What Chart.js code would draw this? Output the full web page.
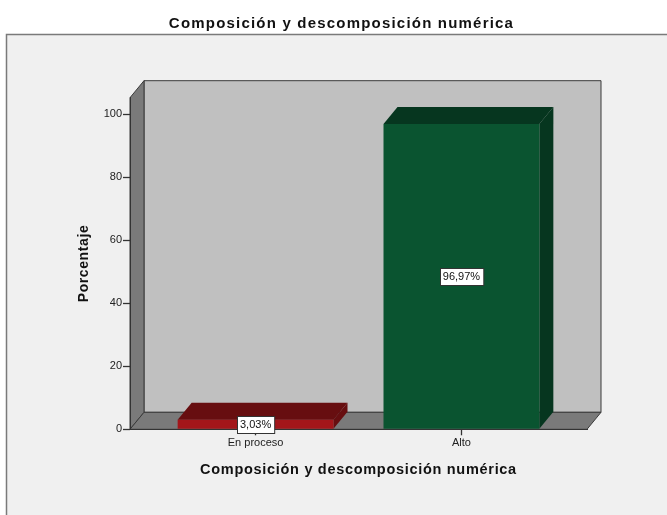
<!DOCTYPE html>
<html>
<head>
<meta charset="utf-8">
<script src="https://cdn.jsdelivr.net/npm/chart.js@4/dist/chart.umd.min.js"></script>
<style>
  html, body { margin: 0; padding: 0; background: #fff; overflow: hidden; width: 667px; height: 515px; }
  #wrap { position: absolute; left: 0; top: 0; width: 683px; height: 515px; }
</style>
</head>
<body>
<div id="wrap"><canvas id="chart" width="683" height="515"></canvas></div>
<script>
// Categories and their percentages
const categories = ['En proceso', 'Alto'];
const percentages = [3.03, 96.97];
const yTickValues = [0, 20, 40, 60, 80, 100];

const chartTitle = 'Composición y descomposición numérica';
const xAxisTitle = 'Composición y descomposición numérica';
const yAxisTitle = 'Porcentaje';

// Styling
const FONT = "'Liberation Sans', Arial, sans-serif";
const FRONT_COLORS = ['#a3161a', '#0a5430'];
const SHADE_COLORS = ['#670e10', '#06361f'];
const DEPTH_X = 14;
const DEPTH_Y = -17;
const EDGE = '#3a3a3a';

function poly(ctx, pts, fill, stroke) {
  ctx.beginPath();
  ctx.moveTo(pts[0][0], pts[0][1]);
  for (let i = 1; i < pts.length; i++) ctx.lineTo(pts[i][0], pts[i][1]);
  ctx.closePath();
  if (fill) { ctx.fillStyle = fill; ctx.fill(); }
  if (stroke) { ctx.strokeStyle = stroke; ctx.lineWidth = 1; ctx.stroke(); }
}

// Frame and 3D box (back wall, side wall, floor)
const boxPlugin = {
  id: 'box3d',
  beforeDraw(chart) {
    const ctx = chart.ctx;
    const {left: L, right: R, top: T, bottom: B} = chart.chartArea;
    ctx.save();
    ctx.fillStyle = '#ffffff';
    ctx.fillRect(0, 0, chart.width, chart.height);
    ctx.fillStyle = '#f0f0f0';
    ctx.fillRect(6.5, 34.5, 670, 520);
    ctx.strokeStyle = '#7a7a7a';
    ctx.lineWidth = 1.5;
    ctx.strokeRect(6.5, 34.5, 670, 520);

    const dx = DEPTH_X, dy = DEPTH_Y;
    // back wall
    poly(ctx, [[L + dx, T + dy], [R + dx, T + dy], [R + dx, B + dy], [L + dx, B + dy]], '#c0c0c0', EDGE);
    // side wall
    poly(ctx, [[L, T], [L + dx, T + dy], [L + dx, B + dy], [L, B]], '#7a7a7a', EDGE);
    // floor
    poly(ctx, [[L, B], [L + dx, B + dy], [R + dx, B + dy], [R, B]], '#7a7a7a', EDGE);
    ctx.restore();
  },
  beforeDatasetsDraw(chart) {
    const ctx = chart.ctx;
    const meta = chart.getDatasetMeta(0);
    ctx.save();
    meta.data.forEach((el, i) => {
      const p = el.getProps(['x', 'y', 'base', 'width'], true);
      const l = p.x - p.width / 2, r = p.x + p.width / 2;
      const dx = DEPTH_X, dy = DEPTH_Y;
      const shade = SHADE_COLORS[i % SHADE_COLORS.length];
      // top face
      poly(ctx, [[l, p.y], [l + dx, p.y + dy], [r + dx, p.y + dy], [r, p.y]], shade);
      // right face
      poly(ctx, [[r, p.y], [r + dx, p.y + dy], [r + dx, p.base + dy], [r, p.base]], shade);
    });
    ctx.restore();
  }
};

// Value boxes on the front faces of the bars
const valueLabelPlugin = {
  id: 'valueLabels',
  afterDatasetsDraw(chart) {
    const ctx = chart.ctx;
    const meta = chart.getDatasetMeta(0);
    const values = chart.data.datasets[0].data;
    ctx.save();
    ctx.font = '11px ' + FONT;
    ctx.textAlign = 'center';
    ctx.textBaseline = 'middle';
    meta.data.forEach((el, i) => {
      const p = el.getProps(['x', 'y', 'base'], true);
      const text = values[i].y.toFixed(2).replace('.', ',') + '%';
      const w = ctx.measureText(text).width + 6;
      const h = 17;
      const cx = p.x, cy = (p.y + p.base) / 2;
      const bx = Math.round(cx - w / 2) + 0.5, by = Math.round(cy - h / 2) + 0.5;
      ctx.fillStyle = '#ffffff';
      ctx.fillRect(bx, by, w, h);
      ctx.strokeStyle = '#333333';
      ctx.lineWidth = 1;
      ctx.strokeRect(bx, by, w, h);
      ctx.fillStyle = '#111111';
      ctx.fillText(text, cx, cy + 0.5);
    });
    ctx.restore();
  }
};

// Chart title and axis titles
const titlesPlugin = {
  id: 'titles',
  afterDraw(chart) {
    const ctx = chart.ctx;
    const {left: L, right: R, top: T, bottom: B} = chart.chartArea;
    ctx.save();
    ctx.fillStyle = '#111111';
    ctx.textAlign = 'center';
    ctx.textBaseline = 'alphabetic';

    ctx.font = 'bold 15px ' + FONT;
    ctx.letterSpacing = '1.2px';
    ctx.fillText(chartTitle, 341.5, 27.5);

    ctx.font = 'bold 14.5px ' + FONT;
    ctx.letterSpacing = '0.7px';
    ctx.fillText(xAxisTitle, (L + R) / 2, 473.5);

    ctx.font = 'bold 14px ' + FONT;
    ctx.letterSpacing = '0.6px';
    ctx.translate(88, (T + B) / 2);
    ctx.rotate(-Math.PI / 2);
    ctx.fillText(yAxisTitle, 0, 0);
    ctx.restore();
  }
};

const tickFont = { family: FONT, size: 11 };

new Chart(document.getElementById('chart'), {
  type: 'bar',
  data: {
    datasets: [{
      data: percentages.map((v, i) => ({ x: i, y: v })),
      backgroundColor: FRONT_COLORS,
      borderWidth: 0,
      barPercentage: 0.757,
      categoryPercentage: 1
    }]
  },
  options: {
    responsive: false,
    animation: false,
    devicePixelRatio: 1,
    layout: { padding: { top: 97.7, right: 96, bottom: 0, left: 0 } },
    plugins: {
      legend: { display: false },
      tooltip: { enabled: false },
      title: { display: false }
    },
    scales: {
      x: {
        type: 'linear',
        min: -0.61,
        max: 1.61,
        offset: false,
        afterBuildTicks: s => { s.ticks = categories.map((_, i) => ({ value: i })); },
        afterFit: s => { s.height = 85.7; },
        ticks: {
          callback: v => categories[v],
          font: tickFont,
          color: '#222222',
          padding: 1,
          autoSkip: false,
          maxRotation: 0
        },
        grid: { offset: false, drawOnChartArea: false, drawTicks: true, tickLength: 6, tickColor: '#333333', tickWidth: 1.3 },
        border: { display: true, color: '#333333', width: 1 }
      },
      y: {
        min: 0,
        max: 105.3,
        afterBuildTicks: s => { s.ticks = yTickValues.map(v => ({ value: v })); },
        afterFit: s => { s.width = 130; },
        ticks: { font: tickFont, color: '#222222', padding: 1 },
        grid: { drawOnChartArea: false, drawTicks: true, tickLength: 7, tickColor: '#333333', tickWidth: 1.3 },
        border: { display: true, color: '#333333', width: 1 }
      }
    }
  },
  plugins: [boxPlugin, valueLabelPlugin, titlesPlugin]
});
</script>
</body>
</html>
